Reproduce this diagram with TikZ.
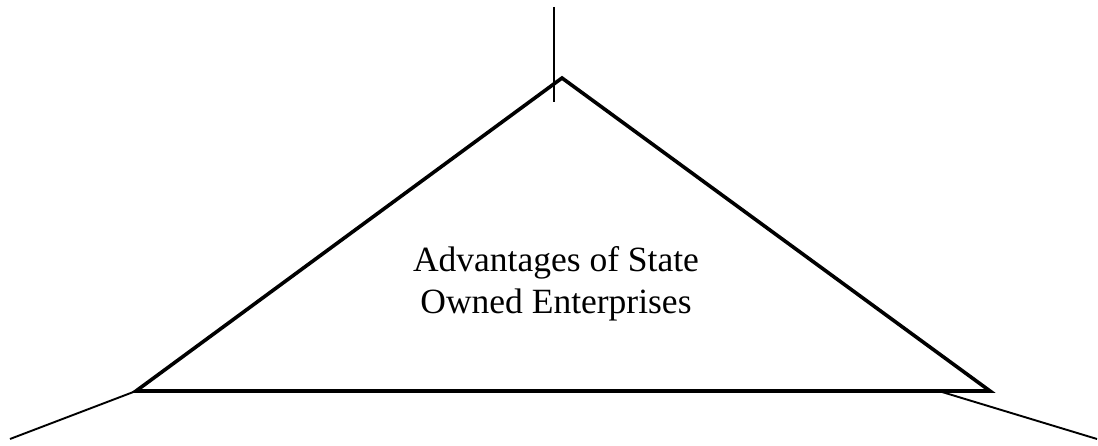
\documentclass[tikz,border=0pt]{standalone}
\usepackage{fontspec}
\setmainfont{Liberation Serif}
\begin{document}
\begin{tikzpicture}[x=1pt,y=-1pt,
  thickline/.style={line width=3.6pt, line join=miter},
  thinline/.style={line width=1.9pt},
  label/.style={align=center, font=\fontsize{35.5}{42}\selectfont, inner sep=0pt}]
\useasboundingbox (0,0) rectangle (1098,446);
\coordinate (apex) at (562,78);
\coordinate (bl) at (136,391);
\coordinate (br) at (990,391);
\coordinate (vtop) at (554,7);
\coordinate (vbot) at (554,102);
\coordinate (lend) at (10,439);
\coordinate (rstart) at (942,392);
\coordinate (rend) at (1097,439);
\draw[thickline] (apex) -- (br) -- (bl) -- cycle;
\draw[thinline] (vtop) -- (vbot);
\draw[thinline] (bl) -- (lend);
\draw[thinline] (rstart) -- (rend);
\node[label] (title) at (556,284) {Advantages of State\\Owned Enterprises};
\end{tikzpicture}
\end{document}
